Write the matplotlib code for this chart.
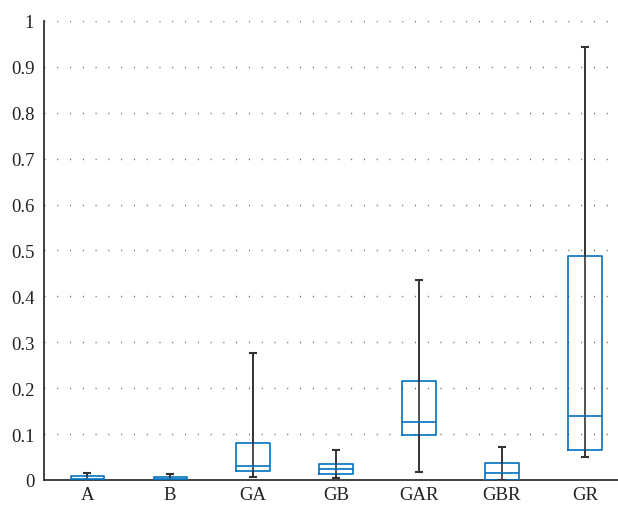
import numpy as np
import matplotlib
matplotlib.use("Agg")
import matplotlib.pyplot as plt
from matplotlib.ticker import FormatStrFormatter

plt.rcParams['font.family'] = ['Liberation Serif', 'DejaVu Serif']

# Box statistics
labels = ['A', 'B', 'GA', 'GB', 'GAR', 'GBR', 'GR']
whislo = [0.000, 0.000, 0.006, 0.004, 0.017, 0.000, 0.050]
q1 = [0.000, 0.000, 0.019, 0.012, 0.099, 0.000, 0.065]
med = [0.003, 0.002, 0.031, 0.024, 0.126, 0.015, 0.140]
q3 = [0.008, 0.006, 0.080, 0.035, 0.215, 0.036, 0.487]
whishi = [0.016, 0.012, 0.277, 0.065, 0.436, 0.072, 0.943]

blue = '#0072BD'
stats = [dict(label=l, whislo=a, q1=b, med=c, q3=d, whishi=e)
         for l, a, b, c, d, e in zip(labels, whislo, q1, med, q3, whishi)]
pos = np.arange(1, len(labels) + 1)

fig = plt.figure(figsize=(6.18, 5.10), dpi=100)
ax = fig.add_axes([0.0712, 0.0569, 0.929, 0.900])

ax.vlines(pos, whislo, whishi, color='#333333', lw=1.2, zorder=2)
ax.bxp(stats, positions=pos, widths=0.4, showfliers=False,
       boxprops=dict(color=blue, lw=1.2),
       medianprops=dict(color=blue, lw=1.2),
       whiskerprops=dict(color='#333333', lw=1.2),
       capprops=dict(color='#333333', lw=1.5),
       capwidths=0.08, zorder=3)

ax.set_xlim(0.48, 7.4)
ax.set_ylim(0, 1)
ax.set_yticks(np.arange(0, 1.01, 0.1))
ax.yaxis.set_major_formatter(FormatStrFormatter('%g'))
ax.set_xticks(pos)
ax.set_xticklabels(labels)
ax.tick_params(length=0, labelsize=13.5, colors='#222222')
ax.tick_params(axis='x', pad=4)
ax.tick_params(axis='y', pad=7)

ax.grid(axis='y', linestyle=(0, (0.7, 8.5)), color='#555555', lw=1.0)
ax.set_axisbelow(True)
for s in ['top', 'right']:
    ax.spines[s].set_visible(False)
for s in ['left', 'bottom']:
    ax.spines[s].set_color('#333333')
    ax.spines[s].set_linewidth(1.3)

fig.savefig('out.png', dpi=100)
